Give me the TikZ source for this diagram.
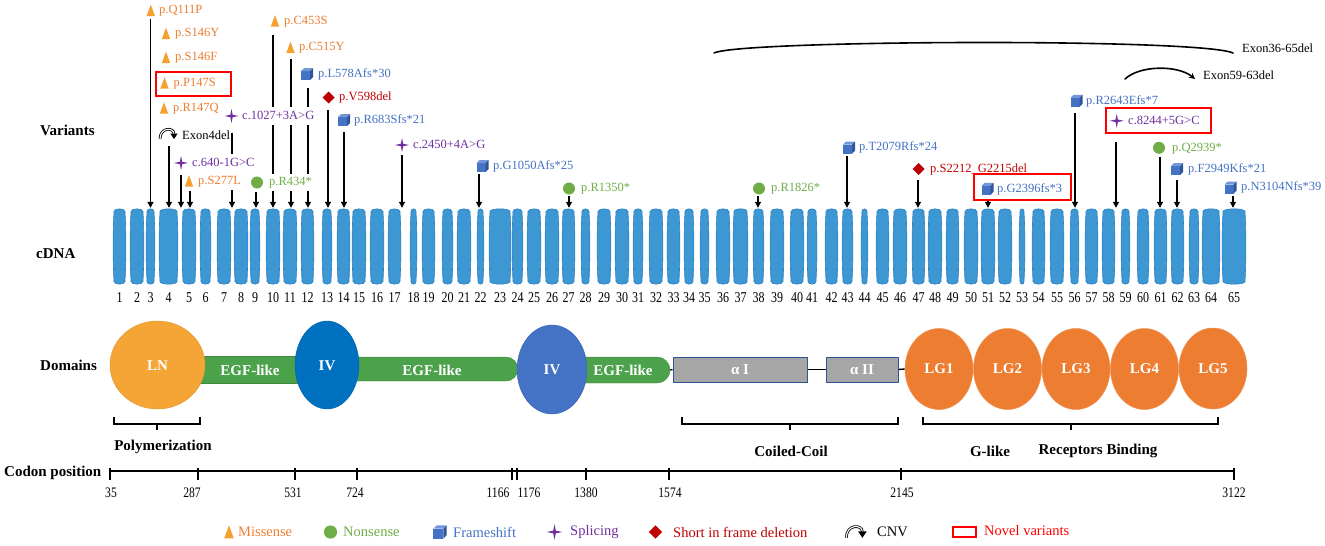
\documentclass[tikz,border=0pt]{standalone}
\usepackage{fontspec}
\setmainfont{Liberation Serif}
\newfontfamily\numfont[FakeStretch=0.8]{Liberation Serif}
\usetikzlibrary{shapes.geometric,arrows.meta}
\pgfdeclarelayer{bg}
\pgfsetlayers{bg,main}
\definecolor{exonfill}{HTML}{3D97D3}
\definecolor{exondraw}{HTML}{2A7FC0}
\definecolor{mistxt}{HTML}{ED7D31}
\definecolor{misfill}{HTML}{F5A02F}
\definecolor{nongreen}{HTML}{70AD47}
\definecolor{fsblue}{HTML}{4472C4}
\definecolor{fsdark}{HTML}{2F5597}
\definecolor{fslight}{HTML}{7396D8}
\definecolor{sppurple}{HTML}{7030A0}
\definecolor{delred}{HTML}{C00000}
\definecolor{novred}{HTML}{FF0000}
\definecolor{lnorange}{HTML}{F5A535}
\definecolor{egfgreen}{HTML}{4CA14B}
\definecolor{ivdark}{HTML}{0070C0}
\definecolor{ivblue}{HTML}{4472C4}
\definecolor{lgorange}{HTML}{ED7D31}
\definecolor{alphagray}{HTML}{A6A6A6}
\definecolor{alphaedge}{HTML}{2F5597}
\tikzset{
  exon/.style={draw=none, fill=none, minimum height=77pt, inner sep=0pt},
  exonpath/.style={draw=exondraw, fill=exonfill, line width=0.6pt},
  exnum/.style={font=\numfont\fontsize{15}{15}\selectfont, inner sep=0pt},
  codon/.style={font=\numfont\fontsize{14.5}{15}\selectfont, inner sep=0pt},
  vlab/.style={anchor=west, fill=white, inner xsep=1pt, inner ysep=3pt, text height=9pt, text depth=2.5pt, font=\fontsize{12.5}{14}\selectfont},
  mis/.style={vlab, text=mistxt},
  non/.style={vlab, text=nongreen},
  fs/.style={vlab, text=fsblue},
  spl/.style={vlab, text=sppurple},
  del/.style={vlab, text=delred},
  cnvtxt/.style={vlab, text=black},
  varrow/.style={line width=1.1pt, -{Triangle[length=6pt,width=6pt]}},
  novel/.style={draw=novred, line width=1.2pt},
  rowlab/.style={anchor=west, font=\fontsize{15}{18}\selectfont\bfseries, inner sep=0pt},
  dom/.style={font=\fontsize{15}{18}\selectfont\bfseries, text=white, inner sep=0pt},
  egfbar/.style={fill=egfgreen, draw=egfgreen!85!black, line width=0.4pt, inner sep=0pt},
  lg/.style={ellipse, fill=lgorange, draw=lgorange!85!white, line width=0.5pt, minimum width=68pt, minimum height=81pt, inner sep=0pt, font=\fontsize{15}{18}\selectfont\bfseries, text=white},
  alphabox/.style={fill=alphagray, draw=alphaedge, line width=1pt, inner sep=0pt, minimum height=25pt, font=\fontsize{15}{18}\selectfont\bfseries, text=white},
  domline/.style={line width=1.4pt},
  brk/.style={line width=1.3pt},
  brktxt/.style={font=\fontsize{15}{18}\selectfont\bfseries, inner sep=0pt},
  axisline/.style={line width=1.5pt},
  legtxt/.style={anchor=west, inner sep=0pt, font=\fontsize{14.5}{17}\selectfont},
  cnvline/.style={line width=1.6pt, line cap=round},
  misicon/.pic={\fill[misfill] (-4.2,5.6) -- (4.2,5.6) -- (0,-5.8) -- cycle;},
  nonicon/.pic={\fill[nongreen] (0,0) circle[radius=6pt];},
  fsicon/.pic={
    \fill[fsblue] (-6,-3) rectangle (3,6);
    \fill[fslight] (-6,-3) -- (-3,-6) -- (6,-6) -- (3,-3) -- cycle;
    \fill[fsdark] (3,-3) -- (6,-6) -- (6,3) -- (3,6) -- cycle;},
  spicon/.pic={\fill[sppurple] (0,-7) -- (1.2,-1.2) -- (7,0) -- (1.2,1.2) -- (0,7) -- (-1.2,1.2) -- (-7,0) -- (-1.2,-1.2) -- cycle;},
  delicon/.pic={\fill[delred] (0,-6) -- (6,0) -- (0,6) -- (-6,0) -- cycle;},
  cnvicon/.pic={
    \draw[line width=0.8pt, double=white, double distance=1.1pt] (-8,5) .. controls (-8,-7) and (6,-7) .. (6,0);
    \fill (2.3,-0.5) -- (9.7,-0.5) -- (6,5) -- cycle;}
}
\begin{document}
\begin{tikzpicture}[x=1pt,y=-1pt]
\useasboundingbox (0,0) rectangle (1325,546);

% row labels
\node[rowlab] (rVar) at (40,130) {Variants};
\node[rowlab] (rDNA) at (36,254) {cDNA};
\node[rowlab] (rDom) at (40,365) {Domains};
\node[rowlab] (rCod) at (4,473) {Codon position};

% exons (barrel shapes)
\foreach \n/\c/\w in {1/119.5/11, 2/137/12, 3/150.5/7, 4/168.5/17, 5/189/12, 6/205.5/9, 7/224/12, 8/241/12, 9/255/8, 10/273/12, 11/290/12, 12/307.5/11, 13/327/8, 14/343.5/11, 15/359/12, 16/377/12, 17/394.5/11, 18/413.5/5, 19/428.5/11, 20/447.5/9, 21/464/12, 22/480.5/5, 23/500/20, 24/517.5/9, 25/534/12, 26/552/12, 27/568.5/11, 28/585.5/7, 29/604/12, 30/622/12, 31/638/8, 32/656/12, 33/673.5/11, 34/689/8, 35/704.5/7, 36/723/12, 37/740.5/13, 38/758.5/9, 39/777/12, 40/797/12, 41/812/8, 42/831.5/11, 43/847.5/9, 44/864.5/5, 45/882.5/11, 46/900/12, 47/918.5/11, 48/935/12, 49/952.5/11, 50/971/12, 51/988/12, 52/1005/12, 53/1022/4, 54/1038.5/11, 55/1057/12, 56/1074.5/7, 57/1091.5/11, 58/1108.5/11, 59/1125.5/7, 60/1143/10, 61/1160.5/11, 62/1177.5/11, 63/1194/8, 64/1211/16, 65/1234/22}{
  \node[exon, minimum width=\w pt] (e\n) at (\c,246.5) {};
  \filldraw[exonpath] ({\c-\w/2},211.5) .. controls ({\c-\w/2},208) and ({\c+\w/2},208) .. ({\c+\w/2},211.5)
     .. controls ({\c+\w/2+1.2},236) and ({\c+\w/2+1.2},257) .. ({\c+\w/2},281.5)
     .. controls ({\c+\w/2},285) and ({\c-\w/2},285) .. ({\c-\w/2},281.5)
     .. controls ({\c-\w/2-1.2},257) and ({\c-\w/2-1.2},236) .. ({\c-\w/2},211.5) -- cycle;
  \node[exnum] (n\n) at (\c,298) {\n};
}

% variant icons and labels
\pic at (150.8,10.5) {misicon};   \node[mis] (l1) at (158,10.5) {p.Q111P};
\pic at (166,33.5) {misicon};     \node[mis] (l2) at (174,33.5) {p.S146Y};
\pic at (166,57.5) {misicon};     \node[mis] (l3) at (174,57.5) {p.S146F};
\pic at (164.5,83) {misicon};     \node[mis] (l4) at (172.5,83) {p.P147S};
\pic at (164,108) {misicon};      \node[mis] (l5) at (172,108) {p.R147Q};
\pic at (168,134) {cnvicon};      \node[cnvtxt] (l6) at (181,136) {Exon4del};
\pic at (181,163) {spicon};       \node[spl] (l7) at (191,163) {c.640-1G>C};
\pic at (189,181) {misicon};      \node[mis] (l8) at (197,181) {p.S277L};
\pic at (231.5,116) {spicon};     \node[spl] (l9) at (241,116) {c.1027+3A>G};
\pic at (257,182.5) {nonicon};    \node[non] (l10) at (268,182.5) {p.R434*};
\pic at (275,21) {misicon};       \node[mis] (l11) at (283,21) {p.C453S};
\pic at (290.5,47.5) {misicon};   \node[mis] (l12) at (298,47.5) {p.C515Y};
\pic at (307,74) {fsicon};        \node[fs] (l13) at (317,74) {p.L578Afs*30};
\pic at (328.5,97.5) {delicon};   \node[del] (l14) at (338,97.5) {p.V598del};
\pic at (344,120) {fsicon};       \node[fs] (l15) at (353,120) {p.R683Sfs*21};
\pic at (402,145) {spicon};       \node[spl] (l16) at (412,145) {c.2450+4A>G};
\pic at (482.5,166) {fsicon};     \node[fs] (l17) at (492,166) {p.G1050Afs*25};
\pic at (569,188.5) {nonicon};    \node[non] (l18) at (580,188.5) {p.R1350*};
\pic at (759,188.5) {nonicon};    \node[non] (l19) at (770,188.5) {p.R1826*};
\pic at (849,147.5) {fsicon};     \node[fs] (l20) at (858,147.5) {p.T2079Rfs*24};
\pic at (918.7,169) {delicon};    \node[del] (l21) at (929,169) {p.S2212\_G2215del};
\pic at (987.5,188.8) {fsicon};   \node[fs] (l22) at (996,188.8) {p.G2396fs*3};
\pic at (1076.5,100.8) {fsicon};  \node[fs] (l23) at (1085,100.8) {p.R2643Efs*7};
\pic at (1116.7,120.8) {spicon};  \node[spl] (l24) at (1127,120.8) {c.8244+5G>C};
\pic at (1159,147.8) {nonicon};   \node[non] (l25) at (1171,147.8) {p.Q2939*};
\pic at (1177,169) {fsicon};      \node[fs] (l26) at (1187,169) {p.F2949Kfs*21};
\pic at (1230.5,187.5) {fsicon};  \node[fs] (l27) at (1240,187.5) {p.N3104Nfs*39};

% novel boxes
\draw[novel] (156,72) rectangle (231,96);
\draw[novel] (974,174) rectangle (1071,200);
\draw[novel] (1106,108) rectangle (1211,133);

% arrows (behind labels)
\begin{pgfonlayer}{bg}
\coordinate (a1) at (150.5,19);   \draw[varrow] (a1) -- (a1 |- e3.north);
\coordinate (a6) at (169,146);    \draw[varrow] (a6) -- (a6 |- e4.north);
\coordinate (a7) at (181,175);    \draw[varrow] (a7) -- (a7 |- e5.north);
\coordinate (a8) at (190,191);    \draw[varrow] (a8) -- (a8 |- e5.north);
\coordinate (a9) at (232,133);    \draw[varrow] (a9) -- (a9 |- e8.north);
\coordinate (a10) at (256,192);   \draw[varrow] (a10) -- (a10 |- e9.north);
\coordinate (a11) at (273,35);    \draw[varrow] (a11) -- (a11 |- e10.north);
\coordinate (a12) at (291,59);    \draw[varrow] (a12) -- (a12 |- e11.north);
\coordinate (a13) at (308,88);    \draw[varrow] (a13) -- (a13 |- e12.north);
\coordinate (a14) at (328,110);   \draw[varrow] (a14) -- (a14 |- e13.north);
\coordinate (a15) at (344,132);   \draw[varrow] (a15) -- (a15 |- e14.north);
\coordinate (a16) at (402,155);   \draw[varrow] (a16) -- (a16 |- e17.north);
\coordinate (a17) at (479,174);   \draw[varrow] (a17) -- (a17 |- e22.north);
\coordinate (a18) at (569,196);   \draw[varrow] (a18) -- (a18 |- e27.north);
\coordinate (a19) at (758,196);   \draw[varrow] (a19) -- (a19 |- e38.north);
\coordinate (a20) at (847,156);   \draw[varrow] (a20) -- (a20 |- e43.north);
\coordinate (a21) at (918,180);   \draw[varrow] (a21) -- (a21 |- e47.north);
\coordinate (a22) at (988,199);   \draw[varrow] (a22) -- (a22 |- e51.north);
\coordinate (a23) at (1075,113);  \draw[varrow] (a23) -- (a23 |- e56.north);
\coordinate (a24) at (1116,142);  \draw[varrow] (a24) -- (a24 |- e58.north);
\coordinate (a25) at (1160,157);  \draw[varrow] (a25) -- (a25 |- e61.north);
\coordinate (a26) at (1177,180);  \draw[varrow] (a26) -- (a26 |- e62.north);
\coordinate (a27) at (1233,196);  \draw[varrow] (a27) -- (a27 |- e65.north);
\end{pgfonlayer}

% large CNV arcs
\coordinate (c36s) at (714,53);
\coordinate (c36e) at (1233,53);
\draw[cnvline] (c36s) .. controls (740,40) and (1200,38) .. (c36e);
\node[cnvtxt, fill=none] (l28) at (1241,49) {Exon36-65del};
\coordinate (c59s) at (1125,79);
\coordinate (c59e) at (1195,79);
\draw[cnvline, -{Stealth[length=6pt,width=6pt]}] (c59s) .. controls (1140,65) and (1178,65) .. (c59e);
\node[cnvtxt, fill=none] (l29) at (1202,76) {Exon59-63del};

% domains
\node[egfbar, minimum width=170pt, minimum height=27pt] (egf1) at (242,369.5) {};
\node[egfbar, rounded corners=12pt, minimum width=191pt, minimum height=24pt] (egf2) at (422.5,369) {};
\node[egfbar, rounded corners=13pt, minimum width=118pt, minimum height=26pt] (egf3) at (611,370) {};
\node[ellipse, fill=lnorange, draw=lnorange!90!black, line width=0.4pt, minimum width=95pt, minimum height=88pt, inner sep=0pt] (LN) at (157.5,365) {};
\node[ellipse, fill=ivdark, draw=ivdark!90!black, line width=0.4pt, minimum width=64pt, minimum height=88pt, inner sep=0pt] (IV1) at (327,365) {};
\node[ellipse, fill=ivblue, draw=ivblue!90!black, line width=0.4pt, minimum width=70pt, minimum height=89pt, inner sep=0pt] (IV2) at (552,369.5) {};
\node[dom] (tLN) at (157.5,366) {LN};
\node[dom] (tIV1) at (327,366) {IV};
\node[dom] (tIV2) at (552,370) {IV};
\node[dom] (tE1) at (250,370) {EGF-like};
\node[dom] (tE2) at (432,370) {EGF-like};
\node[dom] (tE3) at (623,370) {EGF-like};
\node[alphabox, minimum width=134pt] (aI) at (740,369.5) {α I};
\node[alphabox, minimum width=72pt] (aII) at (862,369.5) {α II};
\node[lg] (lg1) at (939,369) {LG1};
\node[lg] (lg2) at (1007.5,369) {LG2};
\node[lg] (lg3) at (1076,369) {LG3};
\node[lg] (lg4) at (1144.5,369) {LG4};
\node[lg] (lg5) at (1213,368.5) {LG5};
\begin{pgfonlayer}{bg}
\draw[domline] (egf3.east) -- (aI.west);
\draw[domline] (aI.east) -- (aII.west);
\draw[domline] (aII.east) -- (lg1.west);
\end{pgfonlayer}

% brackets
\draw[brk] (114,417) -- (114,424) -- (200,424) -- (200,417);
\draw[brk] (157,424) -- (157,430);
\node[brktxt] (bPol) at (163,447) {Polymerization};
\draw[brk] (682,417) -- (682,424) -- (898,424) -- (898,417);
\draw[brk] (790,424) -- (790,430);
\node[brktxt] (bCC) at (791,451) {Coiled-Coil};
\draw[brk] (923,417) -- (923,424) -- (1218,424) -- (1218,417);
\draw[brk] (1071,424) -- (1071,430);
\node[brktxt] (bG) at (990,451) {G-like};
\node[brktxt] (bR) at (1098,451) {Receptors Binding};

% codon axis
\draw[axisline] (110,471) -- (1234,471);
\foreach \x/\lab/\lx in {110/35/111, 198/287/192, 295/531/293, 357/724/355, 512/1166/498, 517/1176/529, 586/1380/586, 669/1574/670, 901/2145/902, 1234/3122/1234}{
  \draw[axisline] (\x,468) -- (\x,480);
  \node[codon] (cod\lab) at (\lx,493) {\lab};
}

% legend
\pic[scale=1.15] at (229,532) {misicon};  \node[legtxt, text=mistxt] (gMis) at (238,532) {Missense};
\pic[scale=1.1] at (330.5,532) {nonicon}; \node[legtxt, text=nongreen] (gNon) at (343,532) {Nonsense};
\pic[scale=1.1] at (440,532) {fsicon};    \node[legtxt, text=fsblue] (gFs) at (453,532) {Frameshift};
\pic[scale=1.1] at (554.5,532) {spicon};  \node[legtxt, text=sppurple] (gSp) at (570,532) {Splicing};
\pic[scale=1.1] at (655.5,532) {delicon}; \node[legtxt, text=delred] (gDel) at (673,532) {Short in frame deletion};
\pic[scale=1.15] at (855.5,532) {cnvicon}; \node[legtxt] (gCnv) at (877,532) {CNV};
\draw[novel] (953,527) rectangle (976,537);
\node[legtxt, text=novred] (gNov) at (984,531) {Novel variants};
\end{tikzpicture}
\end{document}
